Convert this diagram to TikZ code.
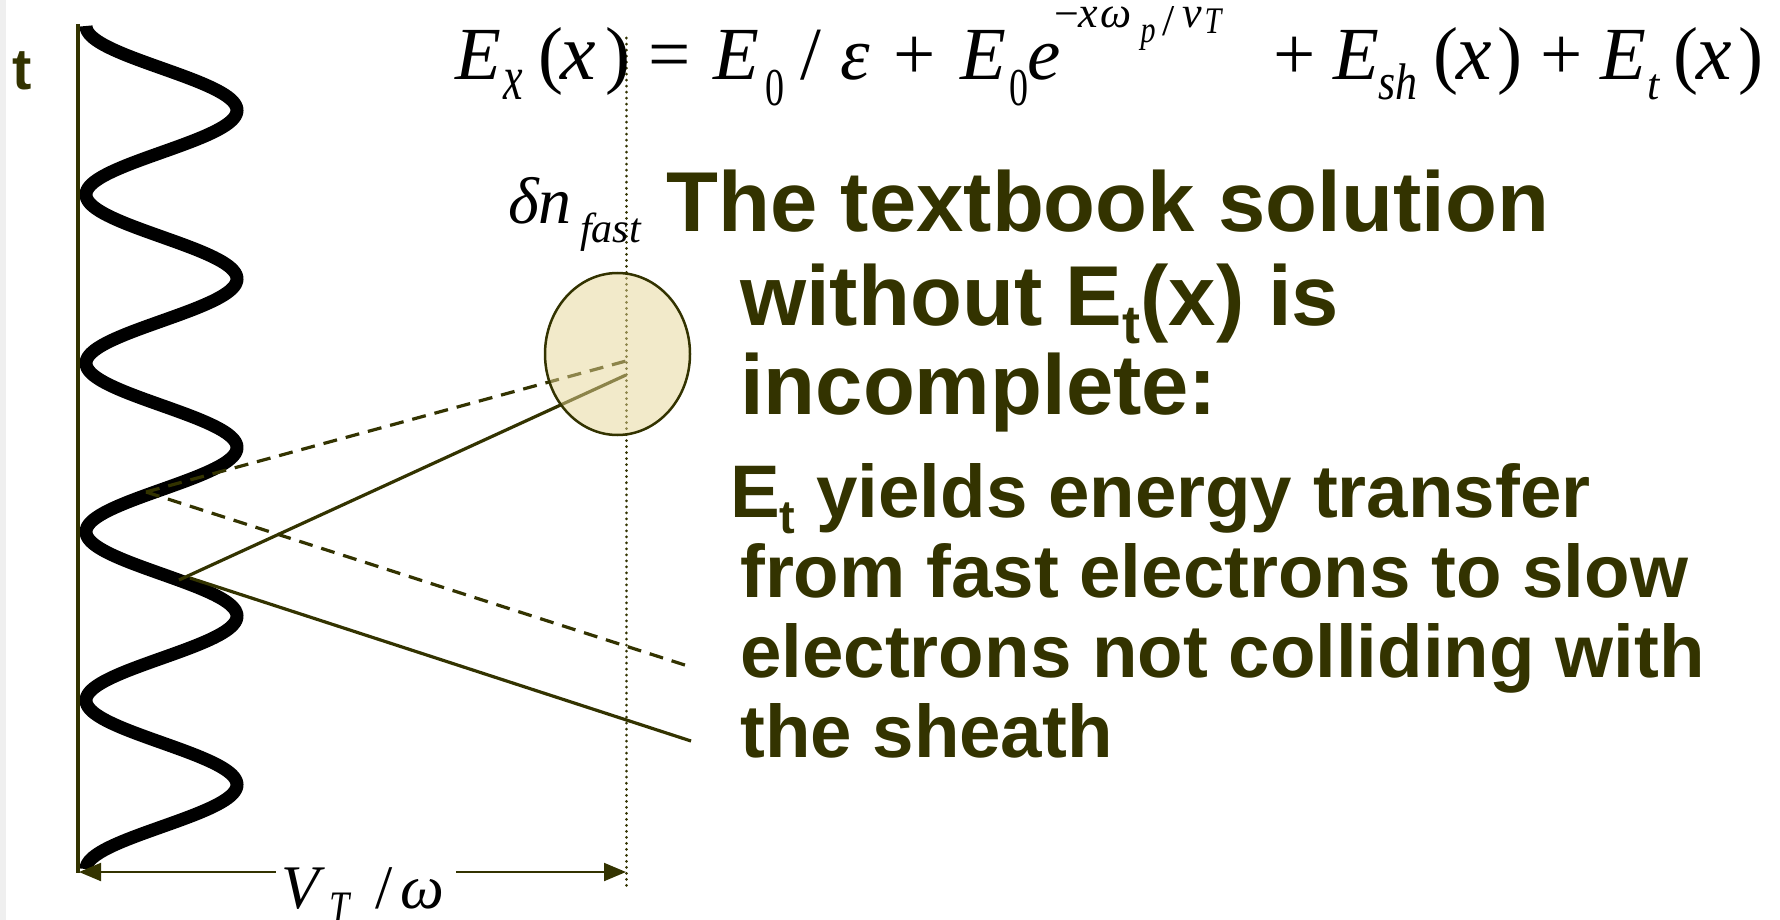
\documentclass[tikz,border=0pt]{standalone}
\usepackage{fontspec}
\setmainfont{Liberation Sans}
\newfontfamily\tms{Liberation Serif}
\usetikzlibrary{arrows.meta,shapes.geometric}
\definecolor{darkolive}{HTML}{333300}
\definecolor{blobfill}{HTML}{E6D595}
\definecolor{edgegray}{HTML}{EFEFEF}
\newcommand\pc[3]{\makebox[0pt][l]{\hspace*{#1pt}\raisebox{#2pt}{#3}}}
\newcommand\mfs{\tms\fontsize{75}{75}\selectfont}
\newcommand\mfx{\tms\fontsize{80}{80}\selectfont\itshape}
\newcommand\sbx[2]{\scalebox{1}[#1]{\tms\fontsize{44}{44}\selectfont\itshape #2}}
\newcommand\sbz{\scalebox{1}[1.4]{\tms\fontsize{38}{38}\selectfont 0}}
\newcommand\sps{\tms\fontsize{44}{44}\selectfont}
\newcommand\sss[1]{\scalebox{1}[1.25]{\tms\fontsize{30}{30}\selectfont\itshape #1}}
\begin{document}
\begin{tikzpicture}[x=1pt,y=-1pt,
  >={Triangle[length=22pt,width=18pt]},
  bigtxt/.style={anchor=base west,inner sep=0pt,text=darkolive,font=\fontsize{85}{90}\selectfont\bfseries},
  midtxt/.style={anchor=base west,inner sep=0pt,text=darkolive,font=\fontsize{74.5}{80}\selectfont\bfseries},
  ray/.style={darkolive,line width=3.2pt},
  dashray/.style={ray,dash pattern=on 14pt off 9pt},
  dim/.style={darkolive,line width=2pt}]
\useasboundingbox (0,0) rectangle (1780,920);
\fill[edgegray] (0,0) rectangle (6,920);

% wave
\draw[black,line width=13pt] plot[domain=26:869,samples=500,smooth] ({161.5-75.5*cos(2.135231*(\x-26))},\x);

% axis
\coordinate (axtop) at (78,24);
\coordinate (axbot) at (78,873);
\draw[darkolive,line width=3.5pt] (axtop) -- (axbot);
\node[anchor=base west,inner sep=0pt,text=darkolive,font=\fontsize{58}{58}\selectfont\bfseries] (tlab) at (12,90) {t};

% dotted line
\coordinate (dottop) at (626,38);
\coordinate (dotbot) at (626,886);
\draw[darkolive,line width=3pt,line cap=round,dash pattern=on 0.01pt off 6pt] (dottop) -- (dotbot);

% rays
\coordinate (dA) at (146,492);
\coordinate (sA1) at (179,580);
\coordinate (sA2) at (190,578);
\coordinate (eD) at (626,361);
\coordinate (eS) at (626,375);
\coordinate (dEnd) at (691,667);
\coordinate (sEnd) at (691,741);
\draw[dashray] (dA) -- (eD);
\draw[dashray] (dA) -- (dEnd);
\draw[ray] (sA1) -- (eS);
\draw[ray] (sA2) -- (sEnd);

% blob
\node[ellipse,draw=darkolive,line width=2.5pt,fill=blobfill,fill opacity=0.5,draw opacity=1,
  minimum width=145pt,minimum height=162pt,inner sep=0pt] (blob) at (617.5,354) {};
\node[anchor=base west,inner sep=0pt,font=\tms\itshape\fontsize{66}{66}\selectfont] (dn) at (508,223) {δn};
\node[anchor=base west,inner sep=0pt,font=\tms\itshape\fontsize{42}{42}\selectfont] (fast) at (580,242) {fast};

% dimension arrow
\coordinate (arrL) at (79,872);
\coordinate (arrR) at (626,872);
\coordinate (gapL) at (276,872);
\coordinate (gapR) at (456,872);
\draw[dim,<-] (arrL) -- (gapL);
\draw[dim,->] (gapR) -- (arrR);
\node[anchor=base west,inner sep=0pt] (vlab) at (281,908)
  {\tms\itshape\fontsize{62}{62}\selectfont
   \pc{0}{0}{V}\pc{48}{-14}{\scalebox{1}[1.25]{\fontsize{36}{36}\selectfont T}}\pc{94}{0}{\upshape /}\pc{119}{0}{ω}};

% formula
\node[anchor=base west,inner sep=0pt] (eqn) at (0,80) {%
\pc{455}{0}{\mfs\itshape E}%
\pc{503}{-20}{\sbx{1.45}{x}}%
\pc{538}{0}{\mfs (}%
\pc{560}{0}{\mfx x}%
\pc{605}{0}{\mfs )}%
\pc{648}{0}{\mfs =}%
\pc{713}{0}{\mfs\itshape E}%
\pc{765}{-26}{\sbz}%
\pc{800}{0}{\mfs /}%
\pc{840}{0}{\mfs\itshape ε}%
\pc{893}{0}{\mfs +}%
\pc{960}{0}{\mfs\itshape E}%
\pc{1009}{-26}{\sbz}%
\pc{1027}{0}{\mfs\itshape e}%
\pc{1054}{51}{\sps −}%
\pc{1078}{52}{\sps\itshape x}%
\pc{1100}{52}{\sps\itshape ω}%
\pc{1140}{37}{\sss{p}}%
\pc{1162}{44}{\sps /}%
\pc{1182}{52}{\sps\itshape v}%
\pc{1204}{46}{\sss{T}}%
\pc{1273}{0}{\mfs +}%
\pc{1333}{0}{\mfs\itshape E}%
\pc{1378}{-20}{\sbx{1.17}{sh}}%
\pc{1433}{0}{\mfs (}%
\pc{1456}{0}{\mfx x}%
\pc{1497}{0}{\mfs )}%
\pc{1540}{0}{\mfs +}%
\pc{1600}{0}{\mfs\itshape E}%
\pc{1647}{-20}{\sbx{1}{t}}%
\pc{1673}{0}{\mfs (}%
\pc{1696}{0}{\mfx x}%
\pc{1738}{0}{\mfs )}%
};

% text
\node[bigtxt] (l1) at (666,232) {The textbook solution};
\node[bigtxt] (l2) at (740,325) {without E\raisebox{-18pt}{\fontsize{54}{54}\selectfont t}(x) is};
\node[bigtxt] (l3) at (740,414) {incomplete:};
\node[midtxt] (l4) at (730,517) {E\raisebox{-16pt}{\fontsize{47}{47}\selectfont t} yields energy transfer};
\node[midtxt] (l5) at (740,597) {from fast electrons to slow};
\node[midtxt] (l6) at (740,677) {electrons not colliding with};
\node[midtxt] (l7) at (740,757) {the sheath};
\end{tikzpicture}
\end{document}
